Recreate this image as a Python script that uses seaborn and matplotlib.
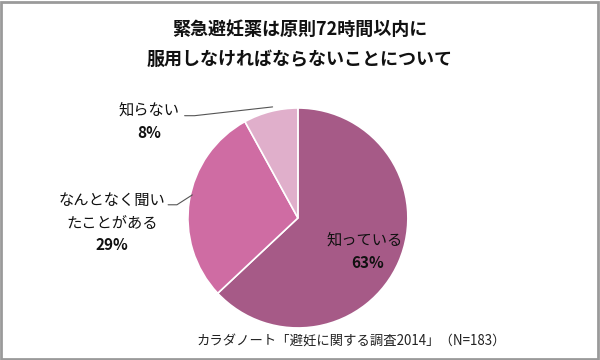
import matplotlib
matplotlib.use("Agg")
import matplotlib.pyplot as plt
import seaborn as sns
from matplotlib.patches import Rectangle

# data
labels = ["知っている", "なんとなく聞い\nたことがある", "知らない"]
shares = [63, 29, 8]
colors = ["#A65A87", "#CF6CA3", "#E0AFCB"]

title = "緊急避妊薬は原則72時間以内に\n服用しなければならないことについて"
source = "カラダノート「避妊に関する調査2014」（N=183）"

sns.set_theme(style="white")
plt.rcParams["font.family"] = ["Noto Sans CJK JP", "DejaVu Sans"]

fig = plt.figure(figsize=(6, 3.6), dpi=100)
ax = fig.add_axes([0.313, 0.089, 0.367, 0.611])

ax.pie(shares, colors=colors, startangle=90, counterclock=False,
       wedgeprops=dict(edgecolor="white", linewidth=1.2))
ax.set_xlim(-1, 1)
ax.set_ylim(-1, 1)

lab_kw = dict(ha="center", va="center", fontsize=11, color="#111111", clip_on=False)
pct_kw = dict(lab_kw, fontweight="bold")

# labels (data coords, pie radius = 1)
ax.text(0.61, -0.20, labels[0], **lab_kw)
ax.text(0.63, -0.41, f"{shares[0]}%", **pct_kw)

ax.text(-1.69, 0.055, labels[1], linespacing=1.45, **lab_kw)
ax.text(-1.69, -0.25, f"{shares[1]}%", **pct_kw)
ax.plot([-1.18, -1.10, -0.96], [0.12, 0.12, 0.21], color="#555555", lw=0.8, clip_on=False)

ax.text(-1.35, 0.98, labels[2], **lab_kw)
ax.text(-1.35, 0.77, f"{shares[2]}%", **pct_kw)
ax.plot([-1.03, -0.94, -0.23], [0.93, 0.93, 1.01], color="#555555", lw=0.8, clip_on=False)

fig.text(0.5, 0.877, title, ha="center", va="center", fontsize=13,
         fontweight="bold", linespacing=1.7, color="#111111")
fig.text(0.585, 0.053, source, ha="center", va="center", fontsize=9.6, color="#222222")

fig.patches.append(Rectangle((0.002, 0.003), 0.995, 0.992, transform=fig.transFigure,
                             fill=False, edgecolor="#9a9a9a", linewidth=2))

fig.savefig("out.png", dpi=100)
